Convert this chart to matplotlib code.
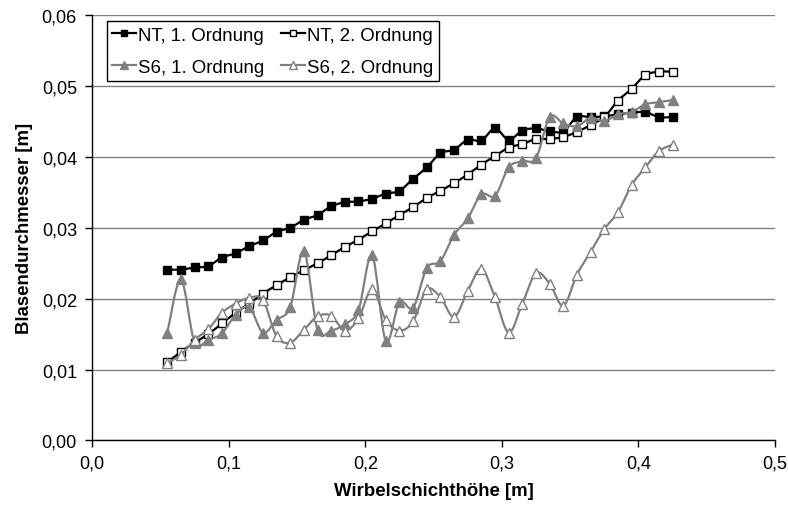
import matplotlib
matplotlib.use("Agg")
import matplotlib.pyplot as plt
from matplotlib.path import Path
from matplotlib.patches import PathPatch
from matplotlib.lines import Line2D
from matplotlib.ticker import FuncFormatter

plt.rcParams["font.family"] = ["Liberation Sans", "DejaVu Sans"]

# Wirbelschichthoehe [m]
hoehe = [0.055, 0.065, 0.075, 0.085, 0.095, 0.105, 0.115, 0.125, 0.135, 0.145,
         0.155, 0.165, 0.175, 0.185, 0.195, 0.205, 0.215, 0.225, 0.235, 0.245,
         0.255, 0.265, 0.275, 0.285, 0.295, 0.305, 0.315, 0.325, 0.335, 0.345,
         0.355, 0.365, 0.375, 0.385, 0.395, 0.405, 0.415, 0.425]

nt_1 = [0.0241, 0.0241, 0.0244, 0.0246, 0.0258, 0.0264, 0.0274, 0.0282, 0.0294, 0.0300,
        0.0311, 0.0318, 0.0330, 0.0336, 0.0337, 0.0341, 0.0348, 0.0352, 0.0369, 0.0385,
        0.0405, 0.0410, 0.0424, 0.0423, 0.0440, 0.0424, 0.0437, 0.0440, 0.0436, 0.0436,
        0.0456, 0.0456, 0.0457, 0.0460, 0.0462, 0.0463, 0.0456, 0.0456]

nt_2 = [0.0110, 0.0125, 0.0138, 0.0150, 0.0165, 0.0180, 0.0193, 0.0207, 0.0219, 0.0230,
        0.0240, 0.0250, 0.0261, 0.0273, 0.0283, 0.0295, 0.0306, 0.0318, 0.0329, 0.0342,
        0.0352, 0.0363, 0.0375, 0.0389, 0.0401, 0.0413, 0.0418, 0.0425, 0.0425, 0.0428,
        0.0435, 0.0445, 0.0456, 0.0479, 0.0496, 0.0515, 0.0520, 0.0520]

s6_1 = [0.0152, 0.0227, 0.0138, 0.0142, 0.0151, 0.0177, 0.0188, 0.0152, 0.0170, 0.0188,
        0.0267, 0.0156, 0.0155, 0.0164, 0.0184, 0.0261, 0.0140, 0.0195, 0.0187, 0.0243,
        0.0253, 0.0290, 0.0313, 0.0347, 0.0345, 0.0385, 0.0394, 0.0398, 0.0456, 0.0447,
        0.0443, 0.0455, 0.0450, 0.0460, 0.0463, 0.0474, 0.0477, 0.0480]

s6_2 = [0.0109, 0.0121, 0.0142, 0.0157, 0.0180, 0.0193, 0.0201, 0.0198, 0.0147, 0.0138,
        0.0156, 0.0175, 0.0176, 0.0155, 0.0172, 0.0213, 0.0170, 0.0155, 0.0168, 0.0213,
        0.0202, 0.0174, 0.0211, 0.0242, 0.0202, 0.0152, 0.0193, 0.0236, 0.0221, 0.0190,
        0.0234, 0.0266, 0.0298, 0.0322, 0.0360, 0.0385, 0.0408, 0.0417]

GREY = "#808080"


def smooth_path(x, y, t=1.0 / 6):
    # Excel-style smoothed line: cubic Bezier segments through every point
    n = len(x)
    verts = [(x[0], y[0])]
    codes = [Path.MOVETO]
    for i in range(n - 1):
        x0, y0 = x[max(i - 1, 0)], y[max(i - 1, 0)]
        x1, y1 = x[i], y[i]
        x2, y2 = x[i + 1], y[i + 1]
        x3, y3 = x[min(i + 2, n - 1)], y[min(i + 2, n - 1)]
        verts += [(x1 + (x2 - x0) * t, y1 + (y2 - y0) * t),
                  (x2 - (x3 - x1) * t, y2 - (y3 - y1) * t),
                  (x2, y2)]
        codes += [Path.CURVE4] * 3
    return Path(verts, codes)


series = [
    ("NT, 1. Ordnung", nt_1, "black", "s", "black", 6),
    ("NT, 2. Ordnung", nt_2, "black", "s", "white", 6),
    ("S6, 1. Ordnung", s6_1, GREY, "^", GREY, 7),
    ("S6, 2. Ordnung", s6_2, GREY, "^", "white", 7),
]

fig = plt.figure(figsize=(7.88, 5.06), dpi=100)
ax = fig.add_axes([0.117, 0.1275, 0.8665, 0.841])

handles = []
for k, (name, vals, col, mk, face, ms) in enumerate(series):
    z = 3 + k
    ax.add_patch(PathPatch(smooth_path(hoehe, vals), facecolor="none",
                           edgecolor=col, lw=1.6, zorder=z))
    ax.plot(hoehe, vals, ls="none", marker=mk, ms=ms, mfc=face, mec=col,
            mew=1.0, zorder=z + 0.5)
    handles.append(Line2D([], [], color=col, lw=1.6, marker=mk, ms=ms - 1,
                          mfc=face, mec=col, mew=1.0, label=name))

ax.set_xlim(0, 0.5)
ax.set_ylim(0, 0.06)
ax.set_xticks([0, 0.1, 0.2, 0.3, 0.4, 0.5])
ax.set_yticks([0, 0.01, 0.02, 0.03, 0.04, 0.05, 0.06])
ax.xaxis.set_major_formatter(FuncFormatter(lambda v, p: f"{v:.1f}".replace(".", ",")))
ax.yaxis.set_major_formatter(FuncFormatter(lambda v, p: f"{v:.2f}".replace(".", ",")))
ax.tick_params(direction="out", length=5, width=1, labelsize=13, colors="black")
ax.tick_params(axis="y", pad=6)
ax.tick_params(axis="x", pad=5)

ax.yaxis.grid(True, color=GREY, lw=1)
ax.set_axisbelow(True)
for s in ["top", "right"]:
    ax.spines[s].set_visible(False)
for s in ["left", "bottom"]:
    ax.spines[s].set_linewidth(1)
    ax.spines[s].set_color("black")

ax.set_xlabel("Wirbelschichthöhe [m]", fontsize=13.4, fontweight="bold", labelpad=8)
ax.set_ylabel("Blasendurchmesser [m]", fontsize=13.4, fontweight="bold", labelpad=6)

# rows: NT 1/2 on top, S6 1/2 below (legend fills column by column)
order = [0, 2, 1, 3]
leg = ax.legend(handles=[handles[i] for i in order], ncol=2, loc="upper left",
                bbox_to_anchor=(0.021, 0.985), fontsize=13.4, frameon=True,
                fancybox=False, edgecolor="black", framealpha=1,
                handlelength=1.3, handletextpad=0.1, columnspacing=0.9,
                borderpad=0.3, labelspacing=0.8, borderaxespad=0)
leg.get_frame().set_linewidth(1)

fig.savefig("out.png", dpi=100)
